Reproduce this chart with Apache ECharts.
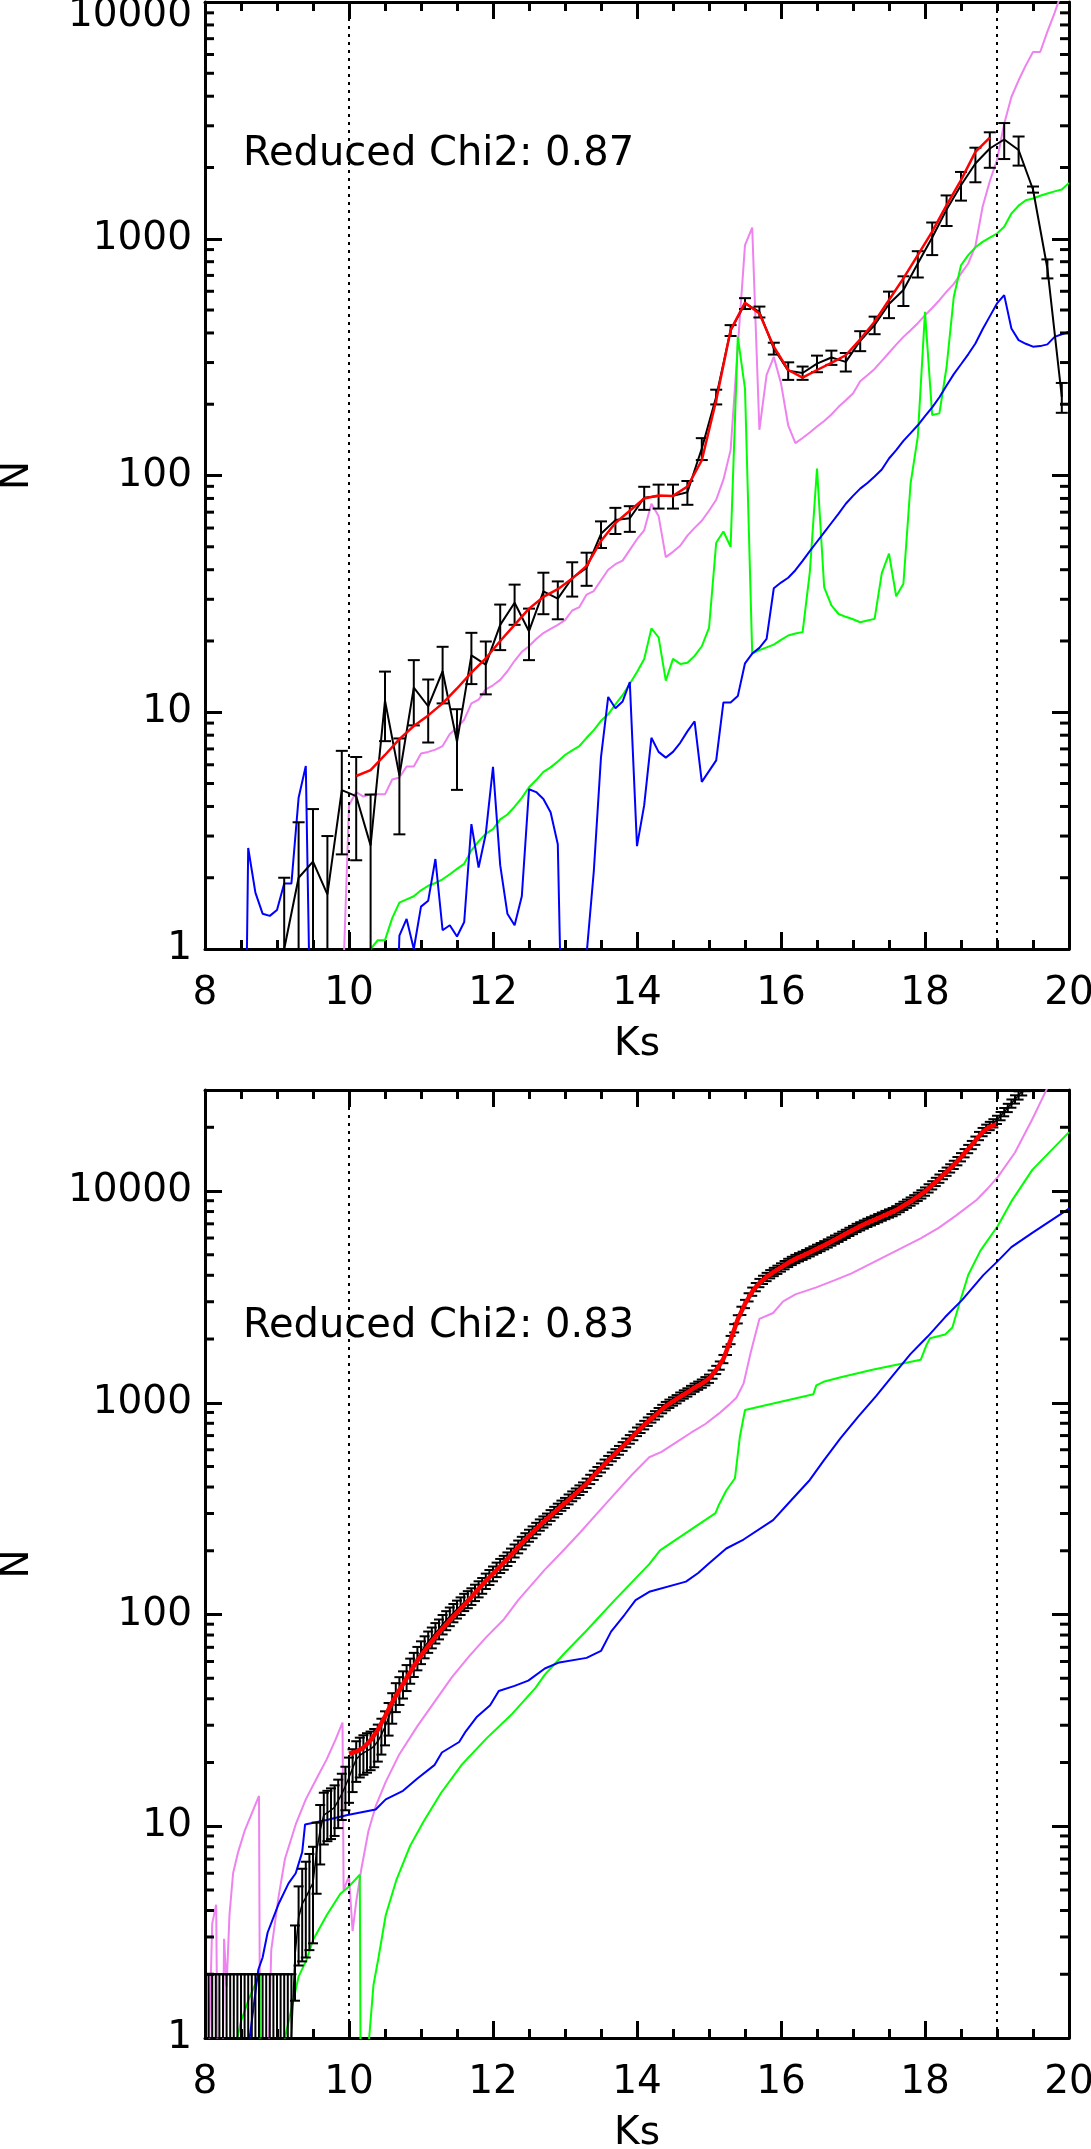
<!DOCTYPE html>
<html>
<head>
<meta charset="utf-8">
<script src="https://cdn.jsdelivr.net/npm/echarts/dist/echarts.min.js"></script>
<style>html,body{margin:0;padding:0;background:#fff}#c{width:1091px;height:2149px}</style>
</head>
<body>
<div id="c"></div>
<script>
// ---------------- DATA : top panel ----------------
const topKs = [9.1,9.3,9.5,9.7,9.9,10.1,10.3,10.5,10.7,10.9,11.1,11.3,11.5,11.7,11.9,12.1,12.3,12.5,12.7,12.9,13.1,13.3,13.5,13.7,13.9,14.1,14.3,14.5,14.7,14.9,15.1,15.3,15.5,15.7,15.9,16.1,16.3,16.5,16.7,16.9,17.1,17.3,17.5,17.7,17.9,18.1,18.3,18.5,18.7,18.9,19.1,19.3,19.5,19.7,19.9];
const topObs = [1,2,2.34,1.7,4.69,4.42,2.74,11.2,5.4,12.7,10.6,14.9,7.5,17.4,15.9,23.4,29,22,32.4,30.2,36.9,40.7,56.7,64.8,66,80.6,82,82,85,130,215,410,533,491,344,277,271,297,315,302,371,432,530,607,786,1012,1328,1682,2078,2405,2626,2370,1614,749,215];
const topErr = [1,1.43,1.56,1.3,2.18,2.05,1.75,3.65,2.35,3.9,3.15,4.0,2.8,4.25,4.0,5.1,5.6,5.4,6.45,5.5,6.1,6.5,7.3,8.2,8.2,9,9.5,9.5,9.8,13.8,15.4,21.7,28.2,26,19.8,23.6,17.5,23.9,21.8,27.1,35.9,36.8,68,87,100,159,196,233,346,411,455,333,48,69,31];
const topFitKs = [10.1,10.3,10.5,10.7,10.9,11.1,11.3,11.5,11.7,11.9,12.1,12.3,12.5,12.7,12.9,13.1,13.3,13.5,13.7,13.9,14.1,14.3,14.5,14.7,14.9,15.1,15.3,15.5,15.7,15.9,16.1,16.3,16.5,16.7,16.9,17.1,17.3,17.5,17.7,17.9,18.1,18.3,18.5,18.7,18.9];
const topFit = [5.38,5.7,6.6,7.7,8.75,9.7,10.9,12.6,14.7,16.9,20,23.4,27.4,30.7,33.1,36.7,41.5,52.9,63,71,80,82.3,82,89.8,116,208,411,537,483,350,279,259,279,299,322,376,446,551,680,853,1071,1388,1768,2328,2675];
const topStep = 0.1;
const topVioletStart = 9.9;
const topViolet = [0.5,4.05,4.6,4.4,4.5,4.5,4.5,5.2,5.3,5.9,5.9,6.7,6.8,6.95,7.2,8.1,8.6,9.3,10.9,11.3,12.5,13,13.7,14.9,16.5,18,19,20.4,21.6,22.5,23.4,24.5,26.9,27.8,31.4,32.5,36.1,40,42.2,43.7,48.5,53.8,58.7,76,67.5,45.2,47.6,50.5,55.7,60.1,64.4,71,79,96,128,350,940,1115,156,266,317,245,163,137,144,152,161,170,181,195,208,222,250,265,282,305,330,357,385,411,440,475,510,550,598,645,712,786,930,1365,1750,2150,3060,3970,4670,5400,6150,6150,7500,9000,11000,12500];
const topGreenStart = 10.3;
const topGreen = [1.0,1.09,1.09,1.35,1.57,1.62,1.67,1.77,1.85,1.9,1.97,2.07,2.18,2.29,2.61,2.85,3.07,3.21,3.53,3.7,3.99,4.35,4.82,5.17,5.6,5.85,6.2,6.6,6.9,7.2,7.8,8.4,9.2,9.8,10.8,11.8,13.2,14.8,16.8,22.6,20.7,13.6,16.8,16,16.2,17.3,19,22.7,52,58,50,385,233,17.7,18.3,18.8,19.3,20.2,21.1,21.5,21.8,39,107,33.7,28.3,26,25.3,24.7,24,24.4,24.8,38.7,46.8,30.9,34.9,92.7,146,491,180,183,288,569,773,853,920,970,1010,1052,1123,1279,1380,1455,1480,1520,1553,1585,1614,1722];
const topBlueStart = 8.5;
const topBlue = [0.01,2.67,1.73,1.41,1.38,1.46,1.89,1.89,4.35,5.93,0.1,0.1,0.1,0.1,0.1,0.1,0.1,0.1,0.1,0.1,0.1,0.1,1.14,1.34,1.0,1.51,1.6,2.4,1.2,1.26,1.13,1.3,3.37,2.21,3.07,5.88,2.26,1.41,1.26,1.67,4.73,4.6,4.3,3.78,2.77,0.1,0.1,0.1,0.95,2.13,6.47,11.6,10.4,11.1,13.4,2.72,4.05,7.8,6.8,6.43,6.8,7.43,8.3,9.16,5.08,5.64,6.26,11,11,11.7,16.1,17.7,18.7,20.4,33.4,35.3,37,39.8,43.6,47.9,52.5,57.5,63,69,76,82,88,93,99,106,118,128,140,151,163,178,194,214,240,268,295,325,361,415,470,533,578,418,373,360,350,352,358,385,395,405];

// ---------------- DATA : bottom panel ----------------
const botObsStart = 8.0, botObsStep = 0.05;
const botObs = [1,1,1,1,1,1,1,1,1,1,1,1,1,1,1,1,1,1,1,1,1,1,1,1,1,
 2.45,3.7,4.3,4.6,5.0,5.4,7.6,9.6,11.3,11.6,11.9,12.3,13.2,14.2,15.5,
 17,18.8,20.7,21.6,22.2,22.7,23.2,23.9,25.2,27,29.5,32.5,36.5,41,44,47,50.6,54.5,58.3,62.4,
 66.5,70.5,74.5,78,82,85.5,90,94,98,102,106,110,114.5,118,122,127,132,137,144,150,
 156,163,170,176,183,191,200,209,218,227,236,245,255,265,274,283,294,305,316,327,
 337,350,362,374,387,400,417,435,455,474,493,514,535,556,576,597,622,647,672,698,
 730,755,785,815,845,873,903,935,965,990,1015,1040,1070,1095,1120,1150,1180,1205,1232,1265,
 1300,1360,1430,1500,1610,1760,1980,2250,2480,2720,2930,3150,3350,3520,3680,3810,3930,4050,4150,4250,
 4360,4470,4580,4680,4780,4870,4950,5040,5140,5240,5340,5440,5550,5660,5780,5900,6020,6150,6280,6420,
 6550,6700,6820,6950,7080,7200,7320,7450,7580,7710,7840,7960,8120,8320,8520,8720,8925,9150,9400,9650,
 9950,10300,10650,11050,11450,11900,12350,12800,13300,13850,14450,15100,15800,16500,17300,18200,19000,19700,20300,20900,
 21700,22600,23600,24700,25900,27100,28300,29600,31000];
const botErr = [1,1,1,1,1,1,1,1,1,1,1,1,1,1,1,1,1,1,1,1,1,1,1,1,1,
 0.95,1.5,2.0,2.2,2.4,2.6,2.8,3.0,3.1,3.1,3.2,3.3,3.4,3.5,3.6,
 4.1,4.3,4.5,4.6,4.7,4.8,4.8,4.9,5.0,5.2,5.4,5.7,6.0,6.4,6.6,6.9,7.1,7.4,7.6,7.9,
 8.2,8.4,8.6,8.8,9.1,9.2,9.5,9.7,9.9,10.1,10.3,10.5,10.7,10.9,11.0,11.3,11.5,11.7,12,12.2,
 12.5,12.8,13,13.3,13.5,13.8,14.1,14.5,14.8,15.1,15.4,15.7,16,16.3,16.6,16.8,17.2,17.5,17.8,18.1,
 18.4,18.9,19.3,19.7,20.2,20.6,21.3,22,22.8,23.5,24.3,25.2,26,26.8,27.6,28.5,29.5,30.5,31.5,32.5,
 34,35,36.5,37.5,39,40,41.5,43,44,45,46,47,48,49.5,50.5,52,53,54,55.5,57,
 58.5,61,64,67,72,79,89,101,111,122,132,141,150,158,165,171,177,182,187,191,
 196,201,206,210,215,219,222,226,231,235,240,244,249,254,260,265,270,276,282,288,
 294,301,306,312,318,324,329,335,341,347,352,358,365,374,383,392,401,411,423,434,
 447,463,479,497,515,535,555,576,598,623,650,680,711,742,778,819,855,886,913,940,
 976,1017,1062,1111,1165,1220,1273,1332,1395];
const botFitStart = 10.0, botFitStep = 0.1;
const botFit = [22,22.5,23.5,25.5,28.5,33,38.5,44,50,57,
 64,71,78.5,86,94,102,111,121,132,144,
 156,169,183,199,217,235,254,273,293,314,
 336,360,386,415,452,492,534,576,620,670,
 728,785,843,901,963,1014,1068,1120,1178,1232,
 1300,1430,1610,1980,2480,2930,3350,3680,3930,4150,
 4360,4580,4780,4950,5140,5340,5550,5780,6020,6280,
 6550,6820,7080,7320,7580,7840,8120,8520,8925,9400,
 9950,10650,11450,12350,13300,14450,15800,17300,19000,20100,
 20700];
const botVioletKs = [8.02,8.10,8.155,8.185,8.235,8.265,8.30,8.34,8.39,8.46,8.55,8.65,8.75,8.77,8.85,8.92,9.02,9.11,9.26,9.40,9.55,9.69,9.81,9.91,9.925,9.98,10.0,10.05,10.10,10.17,10.27,10.37,10.51,10.70,10.95,11.19,11.43,11.67,11.91,12.15,12.35,12.72,12.96,13.21,13.45,13.69,13.93,14.17,14.34,14.56,14.75,14.95,15.14,15.28,15.38,15.48,15.58,15.70,15.89,16.03,16.20,16.49,16.74,16.98,17.22,17.46,17.70,17.94,18.19,18.43,18.72,18.86,19.01,19.25,19.49,19.69,19.80];
const botViolet = [0.3,3.47,4.26,0.3,0.3,2.94,1.75,3.81,6.0,7.55,9.5,11.5,13.9,0.3,0.3,2.6,4.6,7.0,10.2,13.4,16.8,20.7,25.5,30.9,4.98,5.6,5.8,3.2,4.4,6.25,9.5,12.4,16.2,21.9,29.7,38.8,50.6,63.6,78.4,94.8,117,163,198,244,301,371,457,553,586,656,722,794,891,980,1057,1231,1734,2489,2655,3012,3251,3508,3787,4087,4495,4943,5436,5979,6701,7656,9091,10190,11640,15200,21840,30200,36000];
const botGreenKs = [8.45,8.50,8.60,8.70,8.76,8.765,9.10,9.11,9.23,9.30,9.41,9.50,9.69,9.88,10.0,10.15,10.165,10.27,10.28,10.34,10.41,10.51,10.66,10.85,11.04,11.28,11.57,11.91,12.25,12.59,12.72,13.0,13.30,13.69,14.17,14.32,15.09,15.14,15.24,15.36,15.43,15.50,16.45,16.49,16.59,16.83,17.27,17.94,18.02,18.07,18.28,18.38,18.48,18.60,18.77,19.01,19.20,19.49,20.0];
const botGreen = [1.0,1.2,1.5,1.8,2.03,0.3,0.3,1.0,1.52,1.95,2.34,2.9,3.8,4.8,5.2,5.9,0.3,0.3,1.0,1.78,2.4,3.8,5.6,8.1,10.6,14.4,19.6,26,33.5,45,52,66,84,117,173,201,301,331,385,440,695,925,1098,1209,1256,1319,1433,1595,1871,2019,2100,2265,2958,4013,5233,6835,8933,12590,18970];
const botBlueKs = [8.55,8.62,8.74,8.80,8.87,9.02,9.16,9.26,9.35,9.39,9.41,9.69,9.98,10.37,10.51,10.75,10.95,11.19,11.29,11.53,11.62,11.77,11.96,12.08,12.30,12.49,12.72,12.92,13.30,13.50,13.64,13.83,13.98,14.17,14.68,14.85,14.99,15.24,15.48,15.89,16.11,16.40,16.59,16.83,17.07,17.32,17.56,17.80,18.04,18.28,18.52,18.81,19.01,19.20,19.49,20.0];
const botBlue = [0.3,1.0,2.1,2.4,3.15,4.28,5.37,6.0,7.55,10.2,10.4,10.7,11.3,12.0,13.4,14.7,16.8,19.5,22.3,25,28,32.7,37.3,43.5,46,48.7,55.6,59.4,62.4,67.3,83,100,117,128,143,157,173,205,226,279,337,432,532,682,857,1076,1355,1702,2060,2540,3069,4008,4667,5433,6339,8260];

// ---------------- axis tick values / texts ----------------
const xTickLabels = ['8','10','12','14','16','18','20'];
const yMinorTop = [2,3,4,5,6,7,8,9,20,30,40,50,60,70,80,90,200,300,400,500,600,700,800,900,2000,3000,4000,5000,6000,7000,8000,9000];
const yMinorBot = yMinorTop.concat([20000]);
const chiTop = 'Reduced Chi2: 0.87';
const chiBot = 'Reduced Chi2: 0.83';

// ---------------- helpers ----------------
function seq(start, step, n){ const a=[]; for(let i=0;i<n;i++) a.push(+(start+i*step).toFixed(3)); return a; }
function pairs(xs, ys){ return ys.map((y,i)=>[xs[i], y]); }
const FONT = 'DejaVu Sans';
const BLACK = '#000';

function errRender(cap){
  return function(params, api){
    const x = api.value(0), lo = api.value(1), hi = api.value(2);
    const p0 = api.coord([x, lo]), p1 = api.coord([x, hi]);
    const st = {stroke: BLACK, lineWidth: 2, fill: null};
    return {type:'group', children:[
      {type:'line', shape:{x1:p0[0], y1:p0[1], x2:p1[0], y2:p1[1]}, style:st},
      {type:'line', shape:{x1:p0[0]-cap, y1:p0[1], x2:p0[0]+cap, y2:p0[1]}, style:st},
      {type:'line', shape:{x1:p1[0]-cap, y1:p1[1], x2:p1[0]+cap, y2:p1[1]}, style:st}
    ]};
  };
}
function minorRender(params, api){
  const v = api.value(1);
  const pL = api.coord([8, v]), pR = api.coord([20, v]);
  const st = {stroke: BLACK, lineWidth: 3};
  return {type:'group', children:[
    {type:'line', shape:{x1:pL[0], y1:pL[1], x2:pL[0]+9, y2:pL[1]}, style:st},
    {type:'line', shape:{x1:pR[0]-9, y1:pR[1], x2:pR[0], y2:pR[1]}, style:st}
  ]};
}
function errData(xs, ns, es){
  return ns.map((n,i)=>[xs[i], Math.max(n - es[i], 0.001), n + es[i]]);
}

function xAx(gi, pos, showLabel){
  return {
    type:'value', gridIndex: gi, position: pos, min: 8, max: 20, interval: 2,
    name: showLabel ? 'Ks' : '', nameLocation:'middle', nameGap: 76,
    nameTextStyle:{fontFamily:FONT, fontSize:39, color:BLACK},
    axisLine:{show:true, onZero:false, lineStyle:{color:BLACK, width:3}},
    axisTick:{show:true, inside:true, length:17, lineStyle:{color:BLACK, width:3}},
    minorTick:{show:true, splitNumber:4, length:9, lineStyle:{color:BLACK, width:3}},
    splitLine:{show:false}, minorSplitLine:{show:false},
    axisLabel:{show: showLabel, margin: 25, fontFamily:FONT, fontSize:39, color:BLACK,
      formatter: v => xTickLabels[Math.round((v-8)/2)] }
  };
}
function yAx(gi, pos, showLabel, maxV, topShift, showMax){
  return {
    type:'log', logBase:10, gridIndex: gi, position: pos, min: 1, max: maxV,
    name: showLabel ? 'N' : '', nameLocation:'middle', nameGap: 168, nameRotate: 90,
    nameTextStyle:{fontFamily:FONT, fontSize:39, color:BLACK},
    axisLine:{show:true, lineStyle:{color:BLACK, width:3}},
    axisTick:{show:true, inside:true, length:17, lineStyle:{color:BLACK, width:3}},
    minorTick:{show:false}, splitLine:{show:false},
    axisLabel:{show: showLabel, margin: 13, fontFamily:FONT, fontSize:39, color:BLACK,
      showMaxLabel: showMax,
      formatter: v => { const r = Math.round(v); return (topShift && r === maxV) ? '{t|' + r + '}' : String(r); },
      rich:{t:{padding:[27,0,0,0], fontFamily:FONT, fontSize:39, color:BLACK}} }
  };
}

const option = {
  animation: false,
  backgroundColor: '#fff',
  grid: [
    {left:205, top:2, width:864, height:947, containLabel:false, outerBoundsMode:'none'},
    {left:205, top:1090, width:864, height:948, containLabel:false, outerBoundsMode:'none'}
  ],
  xAxis: [ xAx(0,'bottom',true), xAx(0,'top',false), xAx(1,'bottom',true), xAx(1,'top',false) ],
  yAxis: [ yAx(0,'left',true,10000,true,true), yAx(0,'right',false,10000,false,true),
           yAx(1,'left',true,30000,false,false), yAx(1,'right',false,30000,false,false) ],
  graphic: [
    {type:'text', x:243, y:155, silent:true, style:{text:chiTop, fontFamily:FONT, fontSize:40, fill:BLACK, align:'left', verticalAlign:'middle'}},
    {type:'text', x:243, y:1327, silent:true, style:{text:chiBot, fontFamily:FONT, fontSize:40, fill:BLACK, align:'left', verticalAlign:'middle'}}
  ],
  series: []
};

function lineS(xi, yi, data, color, width, z){
  return {type:'line', xAxisIndex:xi, yAxisIndex:yi, data, showSymbol:false, symbol:'none',
    lineStyle:{color, width}, itemStyle:{color}, silent:true, clip:true, z: z||2};
}
const dotted = {symbol:['none','none'], silent:true, label:{show:false},
  lineStyle:{color:BLACK, width:2, type:[3,5]}, data:[{xAxis:10},{xAxis:19}]};

// ---- top panel ----
option.series.push(lineS(0,0, pairs(seq(topVioletStart, topStep, topViolet.length), topViolet), '#EE82EE', 2));
option.series.push(lineS(0,0, pairs(seq(topGreenStart, topStep, topGreen.length), topGreen), '#00FF00', 2));
option.series.push(lineS(0,0, pairs(seq(topBlueStart, topStep, topBlue.length), topBlue), '#0000FF', 2));
const topBlack = lineS(0,0, pairs(topKs, topObs), BLACK, 2, 3);
topBlack.markLine = dotted;
option.series.push(topBlack);
option.series.push({type:'custom', xAxisIndex:0, yAxisIndex:0, renderItem: errRender(6), clip:true, silent:true, z:3,
  encode:{x:0, y:[1,2]}, data: errData(topKs, topObs, topErr)});
option.series.push(lineS(0,0, pairs(topFitKs, topFit), '#FF0000', 2.5, 4));
option.series.push({type:'custom', xAxisIndex:0, yAxisIndex:0, renderItem: minorRender, silent:true, z:5,
  encode:{x:0, y:1}, data: yMinorTop.map(v=>[8, v])});

// ---- bottom panel ----
const botKs = seq(botObsStart, botObsStep, botObs.length);
option.series.push(lineS(2,2, pairs(botVioletKs, botViolet), '#EE82EE', 2));
option.series.push(lineS(2,2, pairs(botGreenKs, botGreen), '#00FF00', 2));
option.series.push(lineS(2,2, pairs(botBlueKs, botBlue), '#0000FF', 2));
const botBlack = lineS(2,2, pairs(botKs, botObs), BLACK, 1.5, 3);
botBlack.markLine = dotted;
option.series.push(botBlack);
option.series.push({type:'custom', xAxisIndex:2, yAxisIndex:2, renderItem: errRender(5), clip:true, silent:true, z:3,
  encode:{x:0, y:[1,2]}, data: errData(botKs, botObs, botErr)});
option.series.push(lineS(2,2, pairs(seq(botFitStart, botFitStep, botFit.length), botFit), '#FF0000', 4.5, 4));
option.series.push({type:'custom', xAxisIndex:2, yAxisIndex:2, renderItem: minorRender, silent:true, z:5,
  encode:{x:0, y:1}, data: yMinorBot.map(v=>[8, v])});

const chart = echarts.init(document.getElementById('c'), null, {renderer:'canvas', width:1091, height:2149});
chart.setOption(option);
</script>
</body>
</html>
